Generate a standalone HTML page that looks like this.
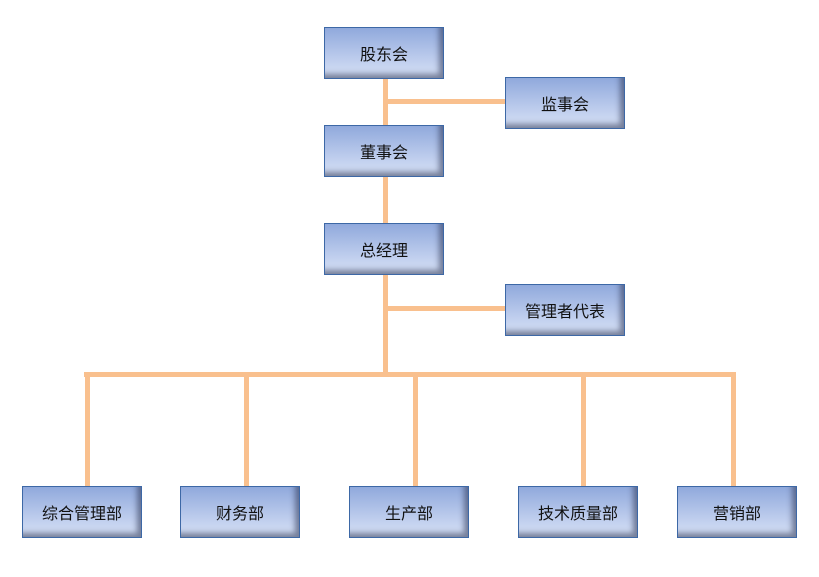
<!DOCTYPE html>
<html><head><meta charset="utf-8"><style>
body{margin:0;width:819px;height:577px;background:#fff;position:relative;overflow:hidden;font-family:"Liberation Sans","Noto Sans CJK SC",sans-serif}
.l{position:absolute;background:#f9c08e}
.b{position:absolute;width:118px;height:50px;border:1px solid #3d68a6;background:linear-gradient(#90a9dc,#c3d1ef 70%,#d6e0f5);box-shadow:inset -5px -5px 6px -1px rgba(40,50,80,.55);display:flex;align-items:center;justify-content:center;font-size:16px;color:#111}
</style></head><body>
<div class="l" style="left:383px;top:79px;width:5px;height:296px"></div>
<div class="l" style="left:385px;top:99px;width:120px;height:5px"></div>
<div class="l" style="left:385px;top:306px;width:120px;height:5px"></div>
<div class="l" style="left:84px;top:372px;width:652px;height:5px"></div>
<div class="l" style="left:85px;top:372px;width:5px;height:114px"></div>
<div class="l" style="left:244px;top:372px;width:5px;height:114px"></div>
<div class="l" style="left:413px;top:372px;width:5px;height:114px"></div>
<div class="l" style="left:581px;top:372px;width:5px;height:114px"></div>
<div class="l" style="left:731px;top:372px;width:5px;height:114px"></div>
<div class="b" style="left:324px;top:27px">股东会</div>
<div class="b" style="left:505px;top:77px">监事会</div>
<div class="b" style="left:324px;top:125px">董事会</div>
<div class="b" style="left:324px;top:223px">总经理</div>
<div class="b" style="left:505px;top:284px">管理者代表</div>
<div class="b" style="left:22px;top:486px">综合管理部</div>
<div class="b" style="left:180px;top:486px">财务部</div>
<div class="b" style="left:349px;top:486px">生产部</div>
<div class="b" style="left:518px;top:486px">技术质量部</div>
<div class="b" style="left:677px;top:486px">营销部</div>
</body></html>
